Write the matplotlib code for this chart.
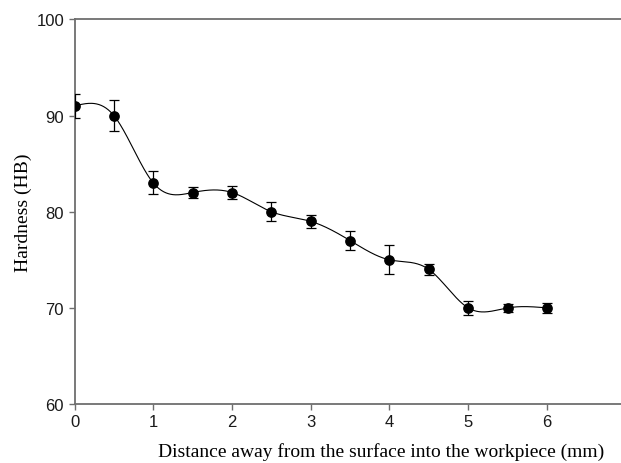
import numpy as np
import matplotlib
matplotlib.use("Agg")
import matplotlib.pyplot as plt

# Hardness profile measured from the surface into the workpiece
distance_mm = [0, 0.5, 1, 1.5, 2, 2.5, 3, 3.5, 4, 4.5, 5, 5.5, 6]
hardness_hb = [91, 90, 83, 82, 82, 80, 79, 77, 75, 74, 70, 70, 70]
hardness_err = [1.2, 1.6, 1.2, 0.6, 0.7, 1.0, 0.7, 1.0, 1.5, 0.6, 0.7, 0.45, 0.5]

x_ticks = [0, 1, 2, 3, 4, 5, 6]
y_ticks = [60, 70, 80, 90, 100]


def natural_cubic_spline(x, y, xs):
    x = np.asarray(x, float)
    y = np.asarray(y, float)
    n = len(x)
    h = np.diff(x)
    A = np.zeros((n, n))
    b = np.zeros(n)
    A[0, 0] = 1
    A[-1, -1] = 1
    for i in range(1, n - 1):
        A[i, i - 1] = h[i - 1]
        A[i, i] = 2 * (h[i - 1] + h[i])
        A[i, i + 1] = h[i]
        b[i] = 6 * ((y[i + 1] - y[i]) / h[i] - (y[i] - y[i - 1]) / h[i - 1])
    M = np.linalg.solve(A, b)
    idx = np.clip(np.searchsorted(x, xs) - 1, 0, n - 2)
    x0, x1 = x[idx], x[idx + 1]
    hh = x1 - x0
    t0 = x1 - xs
    t1 = xs - x0
    return (M[idx] * t0 ** 3 / (6 * hh) + M[idx + 1] * t1 ** 3 / (6 * hh)
            + (y[idx] / hh - M[idx] * hh / 6) * t0
            + (y[idx + 1] / hh - M[idx + 1] * hh / 6) * t1)


fig = plt.figure(figsize=(6.21, 4.64), dpi=100)
ax = fig.add_axes([0.12, 0.127, 0.88, 0.829])

xs = np.linspace(distance_mm[0], distance_mm[-1], 600)
ax.plot(xs, natural_cubic_spline(distance_mm, hardness_hb, xs),
        color="black", lw=0.8, zorder=2)
ax.errorbar(distance_mm, hardness_hb, yerr=hardness_err, fmt="o",
            color="black", ms=6.7, elinewidth=0.9, capsize=3.4,
            capthick=0.9, zorder=3)

ax.set_xlim(0, 6.94)
ax.set_ylim(60, 100)
ax.set_xticks(x_ticks)
ax.set_yticks(y_ticks)

grey = "#6e6e6e"
for side in ("top", "bottom", "left"):
    ax.spines[side].set_color(grey)
    ax.spines[side].set_linewidth(1.3)
ax.spines["right"].set_visible(False)
ax.tick_params(direction="out", length=4, width=1.0, color=grey,
               labelsize=12, labelcolor="#1a1a1a")
for lab in ax.get_xticklabels() + ax.get_yticklabels():
    lab.set_family("Liberation Sans")

ax.set_xlabel("Distance away from the surface into the workpiece (mm)",
              family="Liberation Serif", fontsize=14, labelpad=8)
ax.xaxis.set_label_coords(0.561, -0.098)
ax.set_ylabel("Hardness (HB)", family="Liberation Serif", fontsize=14,
              labelpad=3)

fig.savefig("out.png", dpi=100)
